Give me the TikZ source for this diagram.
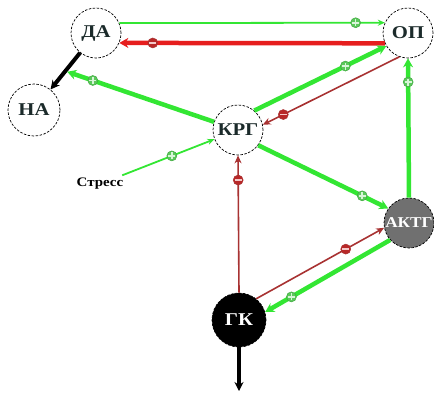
\documentclass[tikz,border=0pt]{standalone}
\usepackage{fontspec}
\newfontfamily\lblfont[FakeStretch=1.15]{Liberation Serif}
\usetikzlibrary{arrows.meta}
\definecolor{gr}{HTML}{33E633}
\definecolor{rd}{HTML}{E61E1E}
\definecolor{drd}{HTML}{A83232}
\definecolor{pmfill}{HTML}{5CC85C}
\definecolor{pmdraw}{HTML}{3FA83F}
\definecolor{pmcross}{HTML}{D8F5D8}
\definecolor{mmfill}{HTML}{B82828}
\definecolor{mmbar}{HTML}{F4C8C8}
\definecolor{txt}{HTML}{1C2B2B}
\definecolor{akgray}{HTML}{707070}
\begin{document}
\begin{tikzpicture}[x=1pt,y=-1pt,
  st/.style={circle, draw=black, dash pattern=on 2.5pt off 1.5pt, line width=0.7pt,
    minimum size=50pt, inner sep=0pt, fill=white, text=txt,
    font=\lblfont\bfseries\fontsize{18}{18}\selectfont},
  gthick/.style={draw=gr, line width=4.5pt, -{Stealth[length=9pt,width=10pt]}},
  gthin/.style={draw=gr, line width=1.8pt, -{Stealth[length=7pt,width=6pt]}},
  rthick/.style={draw=rd, line width=4.5pt, -{Stealth[length=9pt,width=10pt]}},
  rthin/.style={draw=drd, line width=1.6pt, -{Stealth[length=8pt,width=7pt]}},
  bthick/.style={draw=black, line width=4pt, -{Stealth[length=9pt,width=9pt]}},
  mk/.style={-, shorten <=0pt, shorten >=0pt, solid},
  pm/.style={circle, minimum size=10pt, inner sep=0pt, fill=pmfill, draw=pmdraw, line width=0.5pt,
    path picture={\draw[mk, pmcross, line width=1.6pt]
      (path picture bounding box.center) +(-3.5pt,0pt) -- +(3.5pt,0pt)
      (path picture bounding box.center) +(0pt,-3.5pt) -- +(0pt,3.5pt);}},
  mm/.style={circle, minimum size=10pt, inner sep=0pt, fill=mmfill, draw=drd, line width=0.5pt,
    path picture={\draw[mk, mmbar, line width=1.8pt]
      (path picture bounding box.center) +(-3.5pt,0pt) -- +(3.5pt,0pt);}}
]
\useasboundingbox (0,0) rectangle (434,392);

\node[st] (DA) at (96,33) {ДА};
\node[st, minimum size=52pt] (NA) at (34,110) {НА};
\node[st] (OP) at (408,33) {ОП};
\node[st] (KRG) at (238,130) {КРГ};
\node[st, fill=akgray, text=white, font=\lblfont\bfseries\fontsize{15}{15}\selectfont] (AKTG) at (409,223) {АКТГ};
\node[st, fill=black, text=white, minimum size=54pt, font=\lblfont\bfseries\fontsize{18}{18}\selectfont] (GK) at (239,320) {ГК};
\node[font=\lblfont\bfseries\fontsize{13}{13}\selectfont, text=black, inner sep=1pt] (S) at (100,184) {Стресс};
\coordinate (bot) at (239,391);

% DA -> NA
\draw[bthick] (DA) -- coordinate[pos=0.5] (m1) (NA);
% DA -> OP
\draw[gthin] (DA.23.6) -- node[pm, pos=0.89]{} (OP.156.4);
% OP -> DA
\draw[rthick] (OP.-156.4) -- node[mm, pos=0.874]{} (DA.-23.6);
% KRG -> edge DA-NA
\draw[gthick, shorten >=2pt] (KRG) -- node[pm, pos=0.815]{} (m1);
% KRG -> OP
\draw[gthick] (KRG.50) -- node[pm, pos=0.69]{} (OP.211);
% OP -> KRG
\draw[rthin] (OP.250) -- node[mm, pos=0.85]{} (KRG.12);
% KRG -> AKTG
\draw[gthick] (KRG.-37) -- node[pm, pos=0.80]{} (AKTG.145);
% AKTG -> OP
\draw[gthick] (AKTG.north) -- node[pm, pos=0.83]{} (OP.south);
% GK -> KRG
\draw[rthin] (GK.north) -- node[mm, pos=0.82]{} (KRG.south);
% GK -> AKTG
\draw[rthin] (GK.51) -- node[mm, pos=0.70]{} (AKTG.191);
% AKTG -> GK
\draw[gthick] (AKTG.222) -- node[pm, pos=0.79]{} (GK.17);
% Stress -> KRG
\draw[gthin, shorten <=5pt] (S) -- node[pm, pos=0.56]{} (KRG);
% GK -> down
\draw[bthick] (GK.south) -- (bot);
\end{tikzpicture}
\end{document}
